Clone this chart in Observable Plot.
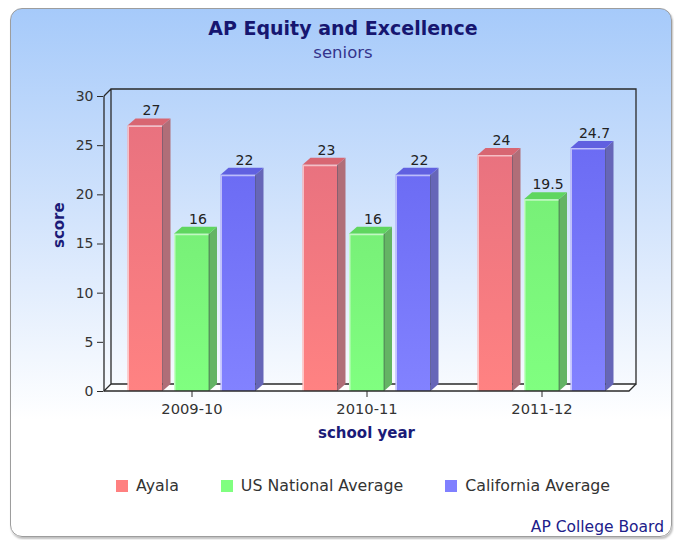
<!DOCTYPE html>
<html>
<head>
<meta charset="utf-8">
<script src="https://cdn.jsdelivr.net/npm/d3@7"></script>
<script src="https://cdn.jsdelivr.net/npm/@observablehq/plot@0.6"></script>
<style>
  html, body { margin: 0; padding: 0; }
  body { width: 674px; height: 540px; position: relative; overflow: hidden; background: #ffffff; font-family: "DejaVu Sans", sans-serif; }
  #card { position: absolute; left: 10px; top: 8px; width: 660px; height: 527px; border: 1.5px solid #9d9d9d; border-radius: 12px;
          background: linear-gradient(to bottom, #a6cafa 0%, #d3e4fc 40%, #ffffff 78%, #ffffff 100%);
          box-shadow: 1px 2px 2px rgba(0,0,0,0.25); }
  #title { position: absolute; left: 0; width: 686px; top: 17px; line-height: 22px; text-align: center; font-weight: bold; font-size: 19px; color: #161670; }
  #subtitle { position: absolute; left: 0; width: 686px; top: 43px; line-height: 19px; text-align: center; font-size: 16.5px; color: #34348c; }
  #chart { position: absolute; left: 0; top: 0; }
  #legend { position: absolute; left: 116px; top: 476px; }
  #caption { position: absolute; right: 10px; top: 518px; line-height: 18px; font-size: 15.5px; color: #20208a; }
  .lg-swatches { font-family: "DejaVu Sans", sans-serif !important; font-size: 15.8px !important; color: #333 !important; margin: 0 !important; }
  .lg-swatches-wrap { min-height: 16px !important; }
  .lg-swatch { margin-right: 42px !important; }
  .lg-swatch > svg { margin-right: 8px !important; }
</style>
</head>
<body>
<div id="card"></div>
<div id="title"></div>
<div id="subtitle"></div>
<div id="chart"></div>
<div id="legend"></div>
<div id="caption"></div>
<script>
// ---- data ----
const years = ["2009-10", "2010-11", "2011-12"];
const series = ["Ayala", "US National Average", "California Average"];
const ayala = [27, 23, 24];
const national = [16, 16, 19.5];
const california = [22, 22, 24.7];
const yTicks = [0, 5, 10, 15, 20, 25, 30];
const titleText = "AP Equity and Excellence";
const subtitleText = "seniors";
const sourceText = "AP College Board";
const xLabel = "school year";
const yLabel = "score";

const rows = years.flatMap((year, i) =>
  [ayala, national, california].map((vals, k) => ({year, series: series[k], value: vals[i]}))
);

// ---- styles ----
const swatch = ["#ff8080", "#80ff80", "#8080ff"];
const frontTop = ["#e9727f", "#78f078", "#6c6cf4"];
const frontBot = ["#ff8282", "#80ff80", "#8282ff"];
const sideCol = ["#b06e78", "#64b464", "#6666b8"];
const topCol = ["#d86672", "#5fd65f", "#6060e0"];
const OFF = [-46.5, 0, 46.5];  // pixel offset of each series inside a year band
const W = 35, DX = 8, DY = 7;   // bar front width and 3D depth
const BOX = 7;                  // frame depth
const lineCol = "#2a2a2a";

document.getElementById("title").textContent = titleText;
document.getElementById("subtitle").textContent = subtitleText;
document.getElementById("caption").textContent = sourceText;

function bw(x) { return typeof x.bandwidth === "function" ? x.bandwidth() : (x.bandwidth || 0); }

// back of the 3D box (walls and floor)
function boxBack(_, scales) {
  const x = scales.x, y = scales.y;
  const l = x(years[0]), r = x(years[years.length - 1]) + bw(x);
  const b = y(0), t = y(30);
  const g = d3.create("svg:g").attr("fill", "none").attr("stroke", lineCol).attr("stroke-width", 1.3);
  g.append("path").attr("fill", "#ffffff").attr("stroke", "none")
    .attr("d", `M${l},${b}L${l + BOX},${b - BOX}L${r + BOX},${b - BOX}L${r},${b}Z`);
  g.append("path").attr("d",
    `M${l + BOX},${b - BOX}L${l + BOX},${t - BOX}L${r + BOX},${t - BOX}L${r + BOX},${b - BOX}L${l + BOX},${b - BOX}` +
    `M${l},${b}L${l + BOX},${b - BOX}M${l},${t}L${l + BOX},${t - BOX}`);
  return g.node();
}

// front edges of the box
function boxFront(_, scales) {
  const x = scales.x, y = scales.y;
  const l = x(years[0]), r = x(years[years.length - 1]) + bw(x);
  const b = y(0), t = y(30);
  const g = d3.create("svg:g").attr("fill", "none").attr("stroke", lineCol).attr("stroke-width", 1.3);
  g.append("path").attr("d", `M${l},${t}L${l},${b}L${r},${b}L${r + BOX},${b - BOX}`);
  return g.node();
}

function bars3d(_, scales) {
  const x = scales.x, y = scales.y;
  const w = bw(x);
  const g = d3.create("svg:g");
  const defs = g.append("defs");
  series.forEach((s, k) => {
    const lg = defs.append("linearGradient").attr("id", "gfront" + k)
      .attr("x1", 0).attr("y1", 0).attr("x2", 0).attr("y2", 1);
    lg.append("stop").attr("offset", "0%").attr("stop-color", frontTop[k]);
    lg.append("stop").attr("offset", "100%").attr("stop-color", frontBot[k]);
  });
  for (const d of rows) {
    const k = series.indexOf(d.series);
    const cx = x(d.year) + w / 2 + OFF[k];
    const l = cx - W / 2, r = cx + W / 2;
    const t = y(d.value), b = y(0);
    g.append("path").attr("fill", sideCol[k])
      .attr("d", `M${r},${t}L${r + DX},${t - DY}L${r + DX},${b - DY}L${r},${b}Z`);
    g.append("path").attr("fill", topCol[k])
      .attr("d", `M${l},${t}L${l + DX},${t - DY}L${r + DX},${t - DY}L${r},${t}Z`);
    g.append("rect").attr("x", l).attr("y", t).attr("width", W).attr("height", b - t)
      .attr("fill", `url(#gfront${k})`);
    g.append("path").attr("stroke", "rgba(255,255,255,0.55)").attr("stroke-width", 1.5).attr("fill", "none")
      .attr("d", `M${l + 0.75},${b}L${l + 0.75},${t + 0.75}L${r},${t + 0.75}`);
    g.append("path").attr("stroke", "rgba(40,40,60,0.45)").attr("stroke-width", 1).attr("fill", "none")
      .attr("d", `M${r},${t}L${r},${b}`);
  }
  return g.node();
}

const fmt = v => String(v);

const chart = Plot.plot({
  width: 674,
  height: 540,
  marginLeft: 103,
  marginRight: 45,
  marginTop: 96,
  marginBottom: 149,
  style: {background: "transparent", fontFamily: "DejaVu Sans, sans-serif", fontSize: "14px", color: "#333"},
  x: {type: "band", domain: years, padding: 0, label: null},
  y: {type: "linear", domain: [0, 30], label: null},
  marks: [
    boxBack,
    bars3d,
    boxFront,
    ...series.map((s, k) => Plot.text(rows.filter(d => d.series === s), {
      x: "year", y: "value", text: d => fmt(d.value), dx: OFF[k] + 6, dy: -15,
      fill: "#222", fontSize: 14
    })),
    Plot.axisY({ticks: yTicks, tickSize: 6, tickPadding: 4, label: null, fontSize: 14, fill: "#333", stroke: lineCol}),
    Plot.axisX({tickSize: 6, tickPadding: 6, label: null, fontSize: 14.7, fill: "#333", stroke: lineCol}),
    Plot.text([yLabel], {text: d => d, frameAnchor: "left", dx: -44, dy: 4, rotate: -90,
      fontWeight: "bold", fontSize: 15, fill: "#1b1b78", lineAnchor: "middle"}),
    Plot.text([xLabel], {text: d => d, frameAnchor: "bottom", dy: 42,
      fontWeight: "bold", fontSize: 15, fill: "#1b1b78", lineAnchor: "middle"})
  ]
});
document.getElementById("chart").appendChild(chart);

const legend = Plot.legend({
  color: {type: "ordinal", domain: series, range: swatch},
  legend: "swatches",
  swatchSize: 12,
  className: "lg"
});
document.getElementById("legend").appendChild(legend);
</script>
</body>
</html>
